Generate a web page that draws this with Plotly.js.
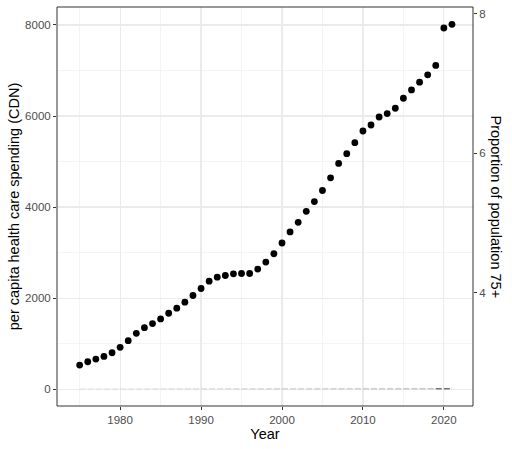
<!DOCTYPE html>
<html>
<head>
<meta charset="utf-8">
<script src="https://cdn.plot.ly/plotly-3.0.1.min.js"></script>
<style>html,body{margin:0;padding:0;background:#fff;}#chart{width:512px;height:449px;}</style>
</head>
<body>
<div id="chart"></div>
<script>
var years = [];
for (var y = 1975; y <= 2021; y++) years.push(y);

var spending = [529, 602, 661, 720, 800, 919, 1065, 1227, 1351, 1440,
  1543, 1668, 1778, 1910, 2057, 2211, 2373, 2461, 2497, 2534,
  2541, 2541, 2638, 2792, 2975, 3211, 3453, 3665, 3907, 4121,
  4364, 4643, 4959, 5172, 5414, 5671, 5803, 5979, 6053, 6171,
  6391, 6574, 6744, 6905, 7112, 7934, 8015];

var prop75 = [2.8, 2.9, 2.9, 3.0, 3.1, 3.1, 3.2, 3.3, 3.4, 3.5,
  3.6, 3.7, 3.8, 3.9, 4.0, 4.1, 4.2, 4.3, 4.4, 4.5,
  4.6, 4.7, 4.8, 4.9, 5.0, 5.1, 5.2, 5.3, 5.4, 5.5,
  5.6, 5.7, 5.8, 5.9, 6.0, 6.1, 6.2, 6.3, 6.4, 6.5,
  6.6, 6.7, 6.8, 6.9, 7.0, 7.2, 7.4];

var xTicks = [1980, 1990, 2000, 2010, 2020];
var yTicks = [0, 2000, 4000, 6000, 8000];
var y2Ticks = [4, 6, 8];

var traces = [];
// dashed line of proportion drawn on the spending scale, segment by segment
var n = years.length;
for (var i = 0; i < n - 1; i++) {
  var g;
  if (years[i] >= 2019) g = 50;
  else g = Math.round(225 - (225 - 170) * i / (n - 3));
  traces.push({
    x: [years[i], years[i + 1]],
    y: [prop75[i], prop75[i + 1]],
    type: 'scatter', mode: 'lines',
    line: {color: 'rgb(' + g + ',' + g + ',' + g + ')', width: 1, dash: '6px,2px'},
    hoverinfo: 'skip', showlegend: false
  });
}
traces.push({
  x: years, y: spending, type: 'scatter', mode: 'markers',
  marker: {color: '#000', size: 6.8}, showlegend: false
});
traces.push({
  x: [years[0]], y: [null], yaxis: 'y2', type: 'scatter', mode: 'markers',
  showlegend: false, hoverinfo: 'skip'
});

var tickFont = {family: 'Liberation Sans, Arial, sans-serif', size: 11.5, color: '#4d4d4d'};
var titleFont = {family: 'Liberation Sans, Arial, sans-serif', size: 14.5, color: '#000'};

var layout = {
  width: 512, height: 449,
  margin: {l: 57, r: 39, t: 7, b: 43, pad: 0},
  paper_bgcolor: '#fff', plot_bgcolor: '#fff',
  xaxis: {
    range: [1972.2, 2023.6], tickvals: xTicks, ticktext: xTicks.map(String),
    showgrid: true, gridcolor: '#ebebeb', gridwidth: 1.2,
    minor: {dtick: 5, tick0: 1975, showgrid: true, gridcolor: '#efefef', gridwidth: 0.7},
    ticks: 'outside', ticklen: 3, tickcolor: '#333', tickwidth: 1,
    tickfont: tickFont, zeroline: false, showline: false,
    title: {text: 'Year', font: titleFont, standoff: 4}
  },
  yaxis: {
    range: [-370, 8395], tickvals: yTicks, ticktext: yTicks.map(String),
    showgrid: true, gridcolor: '#ebebeb', gridwidth: 1.2,
    minor: {dtick: 1000, tick0: 1000, showgrid: true, gridcolor: '#efefef', gridwidth: 0.7},
    ticks: 'outside', ticklen: 3, tickcolor: '#333', tickwidth: 1,
    tickfont: tickFont, zeroline: false, showline: false,
    title: {text: 'per capita health care spending (CDN)', font: titleFont, standoff: 2}
  },
  yaxis2: {
    overlaying: 'y', side: 'right', range: [2.373, 8.1],
    tickvals: y2Ticks, ticktext: y2Ticks.map(String),
    showgrid: false, zeroline: false, showline: false,
    ticks: 'outside', ticklen: 3, tickcolor: '#333', tickwidth: 1,
    tickfont: tickFont
  },
  shapes: [{
    type: 'rect', xref: 'paper', yref: 'paper', x0: 0, x1: 1, y0: 0, y1: 1,
    line: {color: '#333', width: 1}, fillcolor: 'rgba(0,0,0,0)'
  }],
  annotations: [{
    text: 'Proportion of population 75+', xref: 'paper', yref: 'paper',
    x: 1, y: 0.5, xanchor: 'left', yanchor: 'middle', xshift: 13,
    textangle: 90, showarrow: false, font: titleFont
  }]
};

Plotly.newPlot('chart', traces, layout, {displayModeBar: false, staticPlot: true});
</script>
</body>
</html>
